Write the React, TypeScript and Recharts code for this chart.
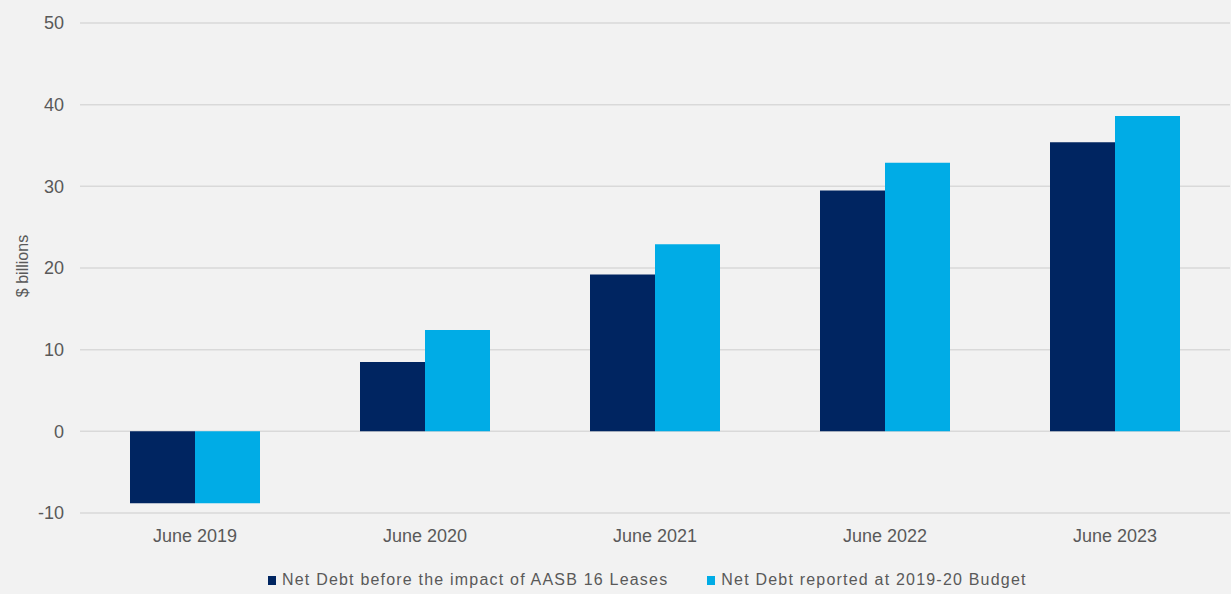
import React from 'react';
import { BarChart, Bar, XAxis, YAxis, CartesianGrid, Legend } from 'recharts';

const categories = ['June 2019', 'June 2020', 'June 2021', 'June 2022', 'June 2023'];
const netDebtBeforeAASB16 = [-8.8, 8.5, 19.2, 29.5, 35.4];
const netDebtReportedBudget = [-8.8, 12.4, 22.9, 32.9, 38.6];
const yTicks = [-10, 0, 10, 20, 30, 40, 50];
const seriesNames = ['Net Debt before the impact of AASB 16 Leases', 'Net Debt reported at 2019-20 Budget'];
const seriesColors = ['#002561', '#00ACE6'];

const data = categories.map((c, i) => ({
  category: c,
  before: netDebtBeforeAASB16[i],
  reported: netDebtReportedBudget[i],
}));

const FONT = '"Liberation Sans", Arial, sans-serif';

const YLabel = (props: any) => {
  const vb = props.viewBox || {};
  const cx = 22;
  const cy = vb.y + vb.height / 2 - 2;
  return (
    <text
      x={cx}
      y={cy}
      transform={`rotate(-90, ${cx}, ${cy})`}
      textAnchor="middle"
      dominantBaseline="central"
      fontFamily={FONT}
      fontSize={16}
      fill="#595959"
    >
      $ billions
    </text>
  );
};

const LegendContent = () => (
  <div style={{ display: 'flex', alignItems: 'center', fontFamily: FONT, fontSize: 16, color: '#595959', letterSpacing: '1.2px', whiteSpace: 'nowrap' }}>
    {seriesNames.map((n, i) => (
      <div key={n} style={{ display: 'flex', alignItems: 'center', marginRight: i === 0 ? 39 : 0 }}>
        <span style={{ display: 'inline-block', width: 8, height: 9, background: seriesColors[i], marginRight: 6 }} />
        <span>{n}</span>
      </div>
    ))}
  </div>
);

export default function App() {
  return (
    <div style={{ position: 'absolute', left: 0, top: 0, width: 1231, height: 594, background: '#f2f2f2' }}>
      <BarChart
        width={1231}
        height={594}
        data={data}
        margin={{ top: 23, right: 1, left: 0, bottom: 51 }}
        barCategoryGap={50}
        barGap={0}
      >
        <CartesianGrid vertical={false} stroke="#d9d9d9" strokeWidth={1.5} />
        <XAxis
          dataKey="category"
          axisLine={false}
          tickLine={false}
          tickSize={0}
          tickMargin={16}
          height={30}
          tick={{ fill: '#595959', fontSize: 18, fontFamily: FONT }}
        />
        <YAxis
          domain={[-10, 50]}
          ticks={yTicks}
          width={80}
          axisLine={false}
          tickLine={false}
          tickSize={0}
          tickMargin={16}
          tick={{ fill: '#595959', fontSize: 18, fontFamily: FONT }}
          label={<YLabel />}
        />
        <Legend
          verticalAlign="middle"
          layout="horizontal"
          content={<LegendContent />}
          wrapperStyle={{ top: 571, left: 268, width: 'auto', height: 20, position: 'absolute' }}
        />
        <Bar dataKey="before" name={seriesNames[0]} fill={seriesColors[0]} isAnimationActive={false} />
        <Bar dataKey="reported" name={seriesNames[1]} fill={seriesColors[1]} isAnimationActive={false} />
      </BarChart>
    </div>
  );
}
